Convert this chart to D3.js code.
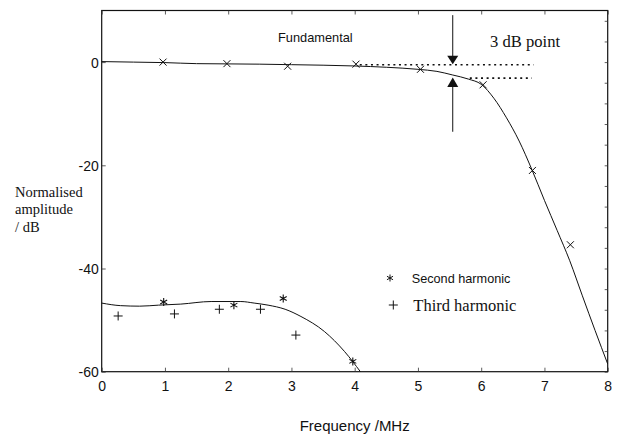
<!DOCTYPE html>
<html><head><meta charset="utf-8">
<script src="https://cdn.jsdelivr.net/npm/d3@7/dist/d3.min.js"></script>
<style>body{margin:0;background:#fff}svg{display:block}</style>
</head><body>
<script>
// ---- data ----
const xTicks = [0,1,2,3,4,5,6,7,8];
const yTicks = [0,-20,-40,-60];
const fundCurveX = [0,0.5,1,1.5,2,2.5,3,3.5,4,4.5,5,5.3,5.55,5.8,6,6.2,6.4,6.6,6.8,7,7.2,7.4,7.6,7.8,8];
const fundCurveY = [0.1,0,-0.1,-0.3,-0.35,-0.4,-0.5,-0.6,-0.75,-1.0,-1.4,-1.8,-2.5,-3.3,-4.3,-7,-10.8,-15.3,-20.8,-26.8,-32.6,-38.5,-45.3,-52,-58.5];
const fundPtsX = [0.97,1.98,2.94,4.02,5.04,6.03,6.81,7.41];
const fundPtsY = [0,-0.3,-0.8,-0.4,-1.4,-4.4,-21,-35.4];
const secCurveX = [0,0.3,0.6,0.9,1.25,1.73,2.2,2.41,2.63,2.9,3.15,3.52,3.84,4.09];
const secCurveY = [-46.7,-47.2,-47.3,-47.1,-46.9,-46.4,-46.4,-46.7,-47.1,-47.9,-49.3,-52.2,-56.1,-60];
const secPtsX = [0.98,2.09,2.87,3.97];
const secPtsY = [-46.5,-47.1,-45.8,-58.0];
const thirdPtsX = [0.26,1.15,1.86,2.51,3.07];
const thirdPtsY = [-49.2,-48.8,-47.9,-47.9,-52.9];
const upperDotX = [4.08,6.83], upperDotY = -0.5;
const lowerDotX = [5.82,6.8], lowerDotY = -3.1;
const arrowX = 5.55;
const downArrow = [9.1,-0.4];
const upArrow = [-13.5,-3.0];

// ---- layout ----
const W=617,H=437;
const svg=d3.select("body").append("svg").attr("width",W).attr("height",H);
const x=d3.scaleLinear().domain([0,8]).range([101.7,607.7]);
const y=d3.scaleLinear().domain([-60,10]).range([371.7,10.5]);
const sans="'Liberation Sans', Arial, sans-serif";
const serif="'Liberation Serif', 'Times New Roman', serif";

// frame
svg.append("rect").attr("x",x(0)).attr("y",y(10)).attr("width",x(8)-x(0)).attr("height",y(-60)-y(10))
  .attr("fill","none").attr("stroke","#111").attr("stroke-width",1.2);

// axes
const gx=svg.append("g").attr("transform",`translate(0,${y(-60)})`)
  .call(d3.axisBottom(x).tickValues(xTicks).tickFormat(d3.format("d")).tickSize(-4).tickPadding(9));
const gy=svg.append("g").attr("transform",`translate(${x(0)},0)`)
  .call(d3.axisLeft(y).tickValues(yTicks).tickFormat(d=>d===0?"0":String(d)).tickSize(-4).tickPadding(3));
const gxt=svg.append("g").attr("transform",`translate(0,${y(10)})`)
  .call(d3.axisTop(x).tickValues(xTicks).tickFormat("").tickSize(-4));
const gyr=svg.append("g").attr("transform",`translate(${x(8)},0)`)
  .call(d3.axisRight(y).tickValues(d3.range(-60,10,4)).tickFormat("").tickSize(-3));
[gx,gy,gxt,gyr].forEach(g=>{g.select(".domain").remove();
  g.selectAll("line").attr("stroke","#333").attr("stroke-width",0.8);
  g.selectAll("text").attr("font-family",sans).attr("font-size",14).attr("fill","#111");});
gy.selectAll("text").attr("dy","0.36em");

// axis titles
svg.append("text").attr("x",(x(0)+x(8))/2).attr("y",431).attr("text-anchor","middle")
  .attr("font-family",sans).attr("font-size",15).attr("fill","#111").text("Frequency /MHz");
const yl=svg.append("text").attr("font-family",serif).attr("font-size",14.5).attr("fill","#111");
["Normalised","amplitude","/ dB"].forEach((t,i)=>yl.append("tspan").attr("x",15).attr("y",196.5+i*17.5).text(t));

// lines
const line=d3.line().x(d=>x(d[0])).y(d=>y(d[1])).curve(d3.curveMonotoneX);
svg.append("path").datum(fundCurveX.map((v,i)=>[v,fundCurveY[i]])).attr("d",line)
  .attr("fill","none").attr("stroke","#111").attr("stroke-width",1);
svg.append("path").datum(secCurveX.map((v,i)=>[v,secCurveY[i]])).attr("d",line)
  .attr("fill","none").attr("stroke","#111").attr("stroke-width",1);

// dotted lines
[[upperDotX,upperDotY],[lowerDotX,lowerDotY]].forEach(([xs,yv])=>{
  svg.append("line").attr("x1",x(xs[0])).attr("x2",x(xs[1])).attr("y1",y(yv)).attr("y2",y(yv))
    .attr("stroke","#111").attr("stroke-width",1.6).attr("stroke-dasharray","2,3.6");
});

// markers
const mk=svg.append("g").attr("stroke","#111").attr("stroke-width",1).attr("fill","none");
fundPtsX.forEach((v,i)=>{const cx=x(v),cy=y(fundPtsY[i]),s=3.5;
  mk.append("path").attr("d",`M${cx-s},${cy-s}L${cx+s},${cy+s}M${cx-s},${cy+s}L${cx+s},${cy-s}`);});
function star(cx,cy,s){return `M${cx},${cy-s}L${cx},${cy+s}M${cx-s*0.87},${cy-s/2}L${cx+s*0.87},${cy+s/2}M${cx-s*0.87},${cy+s/2}L${cx+s*0.87},${cy-s/2}`;}
secPtsX.forEach((v,i)=>{mk.append("path").attr("d",star(x(v),y(secPtsY[i]),4)).attr("stroke-width",1.1);});
function plus(cx,cy,s){return `M${cx-s},${cy}L${cx+s},${cy}M${cx},${cy-s}L${cx},${cy+s}`;}
thirdPtsX.forEach((v,i)=>{mk.append("path").attr("d",plus(x(v),y(thirdPtsY[i]),4.5));});

// arrows
const ax=x(arrowX);
svg.append("line").attr("x1",ax).attr("x2",ax).attr("y1",y(downArrow[0])).attr("y2",y(downArrow[1])-6).attr("stroke","#111").attr("stroke-width",1);
svg.append("path").attr("d",`M${ax-5.5},${y(downArrow[1])-8.5}L${ax+5.5},${y(downArrow[1])-8.5}L${ax},${y(downArrow[1])}Z`).attr("fill","#111");
svg.append("line").attr("x1",ax).attr("x2",ax).attr("y1",y(upArrow[0])).attr("y2",y(upArrow[1])+6).attr("stroke","#111").attr("stroke-width",1);
svg.append("path").attr("d",`M${ax-5.5},${y(upArrow[1])+9.5}L${ax+5.5},${y(upArrow[1])+9.5}L${ax},${y(upArrow[1])}Z`).attr("fill","#111");

// annotations
svg.append("text").attr("x",490).attr("y",46.7).attr("font-family",serif).attr("font-size",16.6).attr("fill","#111").text("3 dB point");
svg.append("text").attr("x",278).attr("y",42.3).attr("font-family",sans).attr("font-size",12.8).attr("fill","#111").text("Fundamental");

// legend
mk.append("path").attr("d",star(390,278,3.5));
svg.append("text").attr("x",411.7).attr("y",283.3).attr("font-family",sans).attr("font-size",12.7).attr("fill","#111").text("Second harmonic");
mk.append("path").attr("d",plus(393.3,305,4.5));
svg.append("text").attr("x",413.3).attr("y",310.7).attr("font-family",serif).attr("font-size",16.5).attr("fill","#111").text("Third harmonic");
</script>
</body></html>
